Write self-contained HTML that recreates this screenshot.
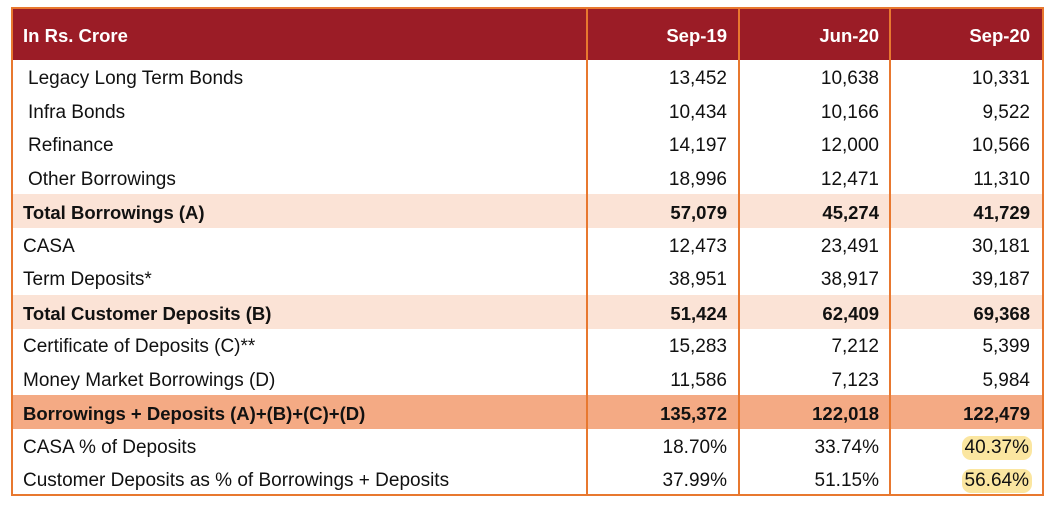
<!DOCTYPE html>
<html><head><meta charset="utf-8"><style>
body{margin:0;width:1046px;height:522px;background:#fff;font-family:"Liberation Sans",sans-serif;overflow:hidden;position:relative}
.r{position:absolute;left:12px;width:1031px;height:34px}
.c{position:absolute;top:2px;height:100%;display:flex;align-items:center;font-size:19px;color:#111}
.l{left:0;width:560px;padding-left:11px}
.n{justify-content:flex-end}
.a{left:575px;width:140px}.b{left:727px;width:140px}.d{left:878px;width:140px}
.bold .c{font-weight:bold;font-size:18.5px}
.hl{background:#fbe6a0;border-radius:9px;padding:1px 3px}
.v{position:absolute;top:7px;height:488px;width:2px;background:#e8782f}
</style></head><body>
<div class="r bold" style="top:8px;height:52px;background:#9b1c26">
<div class="c l" style="color:#fff">In Rs. Crore</div>
<div class="c n a" style="color:#fff">Sep-19</div><div class="c n b" style="color:#fff">Jun-20</div><div class="c n d" style="color:#fff">Sep-20</div></div>

<div class="r" style="top:60px"><div class="c l" style="padding-left:16px">Legacy Long Term Bonds</div><div class="c n a">13,452</div><div class="c n b">10,638</div><div class="c n d">10,331</div></div>
<div class="r" style="top:94px"><div class="c l" style="padding-left:16px">Infra Bonds</div><div class="c n a">10,434</div><div class="c n b">10,166</div><div class="c n d">9,522</div></div>
<div class="r" style="top:127px"><div class="c l" style="padding-left:16px">Refinance</div><div class="c n a">14,197</div><div class="c n b">12,000</div><div class="c n d">10,566</div></div>
<div class="r" style="top:161px"><div class="c l" style="padding-left:16px">Other Borrowings</div><div class="c n a">18,996</div><div class="c n b">12,471</div><div class="c n d">11,310</div></div>
<div class="r bold" style="top:194px;background:#fbe3d6"><div class="c l">Total Borrowings (A)</div><div class="c n a">57,079</div><div class="c n b">45,274</div><div class="c n d">41,729</div></div>
<div class="r" style="top:228px"><div class="c l">CASA</div><div class="c n a">12,473</div><div class="c n b">23,491</div><div class="c n d">30,181</div></div>
<div class="r" style="top:261px"><div class="c l">Term Deposits*</div><div class="c n a">38,951</div><div class="c n b">38,917</div><div class="c n d">39,187</div></div>
<div class="r bold" style="top:295px;background:#fbe3d6"><div class="c l">Total Customer Deposits (B)</div><div class="c n a">51,424</div><div class="c n b">62,409</div><div class="c n d">69,368</div></div>
<div class="r" style="top:328px"><div class="c l">Certificate of Deposits (C)**</div><div class="c n a">15,283</div><div class="c n b">7,212</div><div class="c n d">5,399</div></div>
<div class="r" style="top:362px"><div class="c l">Money Market Borrowings (D)</div><div class="c n a">11,586</div><div class="c n b">7,123</div><div class="c n d">5,984</div></div>
<div class="r bold" style="top:395px;background:#f4aa84"><div class="c l">Borrowings + Deposits (A)+(B)+(C)+(D)</div><div class="c n a">135,372</div><div class="c n b">122,018</div><div class="c n d">122,479</div></div>
<div class="r" style="top:429px"><div class="c l">CASA % of Deposits</div><div class="c n a">18.70%</div><div class="c n b">33.74%</div><div class="c n d" style="width:142px"><span class="hl">40.37%</span></div></div>
<div class="r" style="top:462px"><div class="c l">Customer Deposits as % of Borrowings + Deposits</div><div class="c n a">37.99%</div><div class="c n b">51.15%</div><div class="c n d" style="width:142px"><span class="hl">56.64%</span></div></div>

<div style="position:absolute;left:11px;top:7px;width:1033px;height:2px;background:#e8782f"></div>
<div style="position:absolute;left:11px;top:494px;width:1033px;height:2px;background:#e8782f"></div>
<div class="v" style="left:11px"></div>
<div class="v" style="left:586px"></div>
<div class="v" style="left:738px"></div>
<div class="v" style="left:889px"></div>
<div class="v" style="left:1042px"></div>
</body></html>
